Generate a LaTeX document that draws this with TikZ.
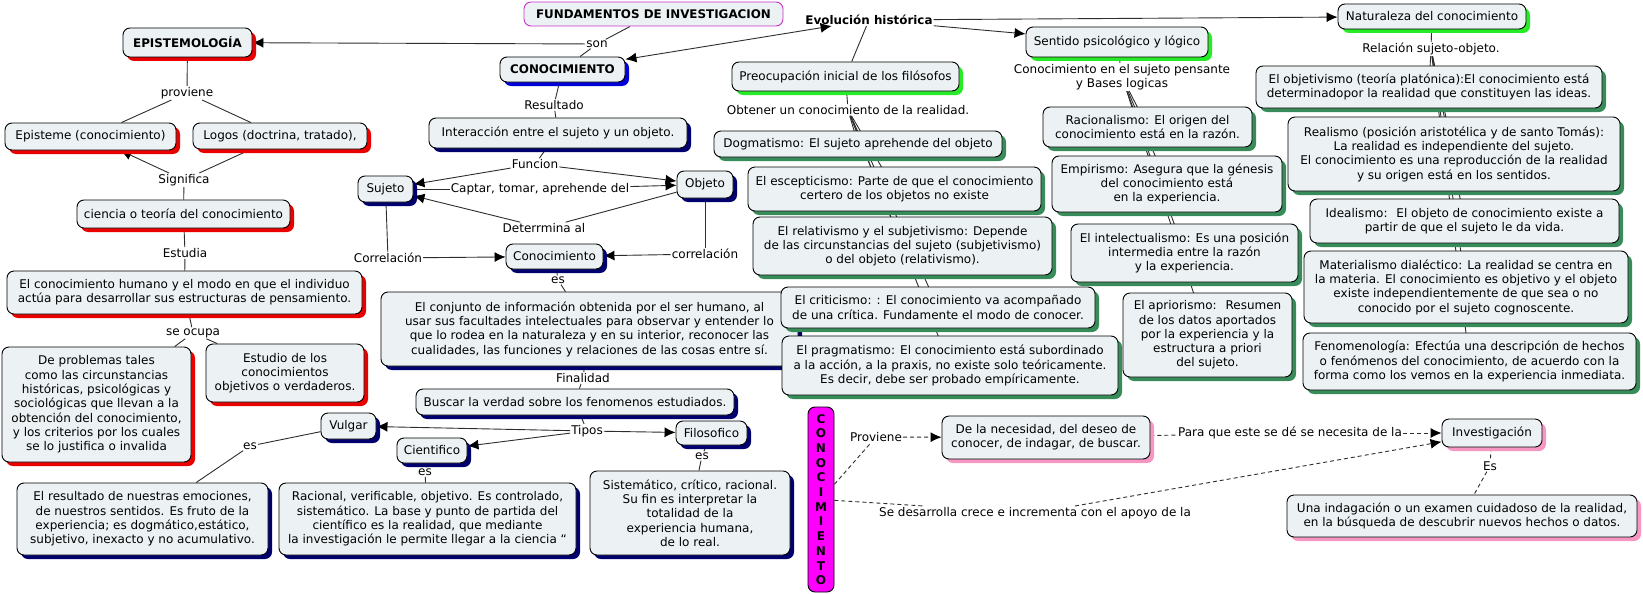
\documentclass[tikz,border=0pt]{standalone}
\usepackage{fontspec}
\setmainfont{DejaVu Sans}
\usetikzlibrary{arrows.meta,shadows}
\pgfdeclarelayer{background}
\pgfsetlayers{background,main}
\definecolor{boxfill}{RGB}{236,242,244}
\definecolor{cred}{RGB}{235,0,0}
\definecolor{cnavy}{RGB}{0,0,110}
\definecolor{cblue}{RGB}{0,0,215}
\definecolor{clime}{RGB}{40,235,40}
\definecolor{csea}{RGB}{55,140,90}
\definecolor{cpink}{RGB}{245,150,195}
\definecolor{cmag}{RGB}{255,0,255}
\definecolor{cmagb}{RGB}{200,50,200}
\definecolor{linecol}{RGB}{45,45,45}
\tikzset{
  base/.style={draw=black, line width=0.9pt, rounded corners=7pt, fill=boxfill,
    align=center, inner sep=2pt, font=\fontsize{12}{14.3}\selectfont},
  bred/.style={base, drop shadow={shadow xshift=4pt,shadow yshift=-4pt,fill=cred,opacity=1}},
  bnavy/.style={base, drop shadow={shadow xshift=4pt,shadow yshift=-4pt,fill=cnavy,opacity=1}},
  bblue/.style={base, drop shadow={shadow xshift=4pt,shadow yshift=-4pt,fill=cblue,opacity=1}},
  blime/.style={base, drop shadow={shadow xshift=4pt,shadow yshift=-4pt,fill=clime,opacity=1}},
  bsea/.style={base, drop shadow={shadow xshift=4pt,shadow yshift=-4pt,fill=csea,opacity=1}},
  bpink/.style={base, drop shadow={shadow xshift=4pt,shadow yshift=-4pt,fill=cpink,opacity=1}},
  lab/.style={inner sep=1pt, align=center, font=\fontsize{12}{14.3}\selectfont},
  ln/.style={draw=linecol, line width=0.9pt},
  ar/.style={ln, -{Latex[length=11pt,width=10pt,color=black]}},
  dln/.style={ln, dash pattern=on 4pt off 3pt},
  dar/.style={dln, -{Latex[length=11pt,width=10pt,color=black]}},
  bld/.style={font=\fontsize{11.9}{14}\selectfont\bfseries},
}
\begin{document}
\begin{tikzpicture}[x=1pt,y=-1pt]
\path[use as bounding box] (0,0) rectangle (1643,594);

% ---------- top titles ----------
\node[base, draw=cmagb, bld, minimum width=259, minimum height=24] (fund) at (653.5,14) {FUNDAMENTOS DE INVESTIGACION};
\node[bred, bld, minimum width=129, minimum height=29] (epis) at (187.5,42.5) {EPISTEMOLOGÍA};
\node[bblue, bld, minimum width=125, minimum height=25] (conoc) at (562.5,69.5) {CONOCIMIENTO};
\node[lab, bld] (evol) at (869,20) {Evolución histórica};
\node[lab] (son) at (597,44) {son};

% ---------- left branch ----------
\node[lab] (prov) at (187,93) {proviene};
\node[bred, minimum width=171, minimum height=27] (epi) at (90.5,136.5) {Episteme (conocimiento)};
\node[bred, minimum width=174, minimum height=26] (logos) at (280,136) {Logos (doctrina, tratado),};
\node[lab] (signif) at (184,180) {Significa};
\node[bred, minimum width=213, minimum height=28] (cien) at (183.5,214) {ciencia o teoría del conocimiento};
\node[lab] (estud) at (185,253) {Estudia};
\node[bred, minimum width=355, minimum height=43] (hum) at (184.5,292.5) {El conocimiento humano y el modo en que el individuo\\actúa para desarrollar sus estructuras de pensamiento.};
\node[lab] (seoc) at (193,333) {se ocupa};
\node[bred, minimum width=189, minimum height=115] (prob) at (96.5,404.5) {De problemas tales\\como las circunstancias\\históricas, psicológicas y\\sociológicas que llevan a la\\obtención del conocimiento,\\y los criterios por los cuales\\se lo justifica o invalida};
\node[bred, minimum width=158, minimum height=58] (estu) at (285,373) {Estudio de los\\conocimientos\\objetivos o verdaderos.};

% ---------- middle branch ----------
\node[lab] (resl) at (554,105) {Resultado};
\node[bnavy, minimum width=258, minimum height=30] (inter) at (558,133) {Interacción entre el sujeto y un objeto.};
\node[lab] (func) at (535,164) {Funcion};
\node[bnavy, minimum width=55, minimum height=26] (suj) at (385.5,189) {Sujeto};
\node[bnavy, minimum width=56, minimum height=27] (objn) at (705,184.5) {Objeto};
\node[lab] (capt) at (540,189) {Captar, tomar, aprehende del};
\node[lab] (det) at (544,228) {Deterrmina al};
\node[lab] (corr1) at (388,258) {Correlación};
\node[lab] (corr2) at (705,254) {correlación};
\node[bnavy, minimum width=97, minimum height=25] (conm) at (554.5,256.5) {Conocimiento};
\node[lab] (esa) at (558,280) {es};
\node[bnavy, minimum width=417, minimum height=74] (conj) at (589.5,329) {El conjunto de información obtenida por el ser humano, al\\usar sus facultades intelectuales para observar y entender lo\\que lo rodea en la naturaleza y en su interior, reconocer las\\cualidades, las funciones y relaciones de las cosas entre sí.};
\node[lab] (fin) at (583,378) {Finalidad};
\node[bnavy, minimum width=318, minimum height=26] (busc) at (575,402) {Buscar la verdad sobre los fenomenos estudiados.};
\node[lab] (tip) at (587,431) {Tipos};
\node[bnavy, minimum width=55, minimum height=26] (vulg) at (348.5,426) {Vulgar};
\node[bnavy, minimum width=70, minimum height=25] (cient) at (432,450.5) {Cientifico};
\node[bnavy, minimum width=71, minimum height=24] (filo) at (711.5,433) {Filosofico};
\node[lab] (esv) at (250,446) {es};
\node[lab] (esb) at (425,472) {es};
\node[lab] (esf) at (702,456) {es};
\node[bnavy, minimum width=251, minimum height=72] (resul) at (142.5,519) {El resultado de nuestras emociones,\\de nuestros sentidos. Es fruto de la\\experiencia; es dogmático,estático,\\subjetivo, inexacto y no acumulativo.};
\node[bnavy, minimum width=297, minimum height=72] (racio) at (427.5,519) {Racional, verificable, objetivo. Es controlado,\\sistemático. La base y punto de partida del\\científico es la realidad, que mediante\\la investigación le permite llegar a la ciencia “};
\node[bnavy, minimum width=200, minimum height=84] (sist) at (690,513) {Sistemático, crítico, racional.\\Su fin es interpretar la\\totalidad de la\\experiencia humana,\\de lo real.};

% ---------- evolucion column ----------
\node[blime, minimum width=227, minimum height=29] (preoc) at (845.5,76.5) {Preocupación inicial de los filósofos};
\node[lab] (obt) at (848,110) {Obtener un conocimiento de la realidad.};
\node[bsea, minimum width=288, minimum height=26] (dog) at (858,144) {Dogmatismo: El sujeto aprehende del objeto};
\node[bsea, minimum width=293, minimum height=44] (esc) at (894.5,189) {El escepticismo: Parte de que el conocimiento\\certero de los objetos no existe};
\node[bsea, minimum width=299, minimum height=58] (rel) at (902.5,246) {El relativismo y el subjetivismo: Depende\\de las circunstancias del sujeto (subjetivismo)\\o del objeto (relativismo).};
\node[bsea, minimum width=314, minimum height=41] (cri) at (938,307.5) {El criticismo: : El conocimiento va acompañado\\de una crítica. Fundamente el modo de conocer.};
\node[bsea, minimum width=336, minimum height=59] (pra) at (950,365.5) {El pragmatismo: El conocimiento está subordinado\\a la acción, a la praxis, no existe solo teóricamente.\\Es decir, debe ser probado empíricamente.};

\node[blime, minimum width=182, minimum height=30] (sent) at (1117,42) {Sentido psicológico y lógico};
\node[lab] (csuj) at (1122,77) {Conocimiento en el sujeto pensante\\y Bases logicas};
\node[bsea, minimum width=209, minimum height=40] (rac) at (1147.5,127) {Racionalismo: El origen del\\conocimiento está en la razón.};
\node[bsea, minimum width=230, minimum height=56] (emp) at (1167,184) {Empirismo: Asegura que la génesis\\del conocimiento está\\en la experiencia.};
\node[bsea, minimum width=227, minimum height=58] (intl) at (1184.5,253) {El intelectualismo: Es una posición\\intermedia entre la razón\\y la experiencia.};
\node[bsea, minimum width=169, minimum height=84] (apr) at (1207.5,335) {El apriorismo:~ Resumen\\de los datos aportados\\por la experiencia y la\\estructura a priori\\del sujeto.};

\node[blime, minimum width=188, minimum height=25] (natur) at (1432,16.5) {Naturaleza del conocimiento};
\node[lab] (rso) at (1431,49) {Relación sujeto-objeto.};
\node[bsea, minimum width=346, minimum height=42] (objv) at (1429,87) {El objetivismo (teoría platónica):El conocimiento está\\determinadopor la realidad que constituyen las ideas.};
\node[bsea, minimum width=332, minimum height=74] (rea) at (1454,154) {Realismo (posición aristotélica y de santo Tomás):\\La realidad es independiente del sujeto.\\El conocimiento es una reproducción de la realidad\\y su origen está en los sentidos.};
\node[bsea, minimum width=309, minimum height=44] (ide) at (1464.5,221) {Idealismo:~ El objeto de conocimiento existe a\\partir de que el sujeto le da vida.};
\node[bsea, minimum width=324, minimum height=72] (mat) at (1466,287) {Materialismo dialéctico: La realidad se centra en\\la materia. El conocimiento es objetivo y el objeto\\existe independientemente de que sea o no\\conocido por el sujeto cognoscente.};
\node[bsea, minimum width=333, minimum height=57] (fen) at (1469.5,361.5) {Fenomenología: Efectúa una descripción de hechos\\o fenómenos del conocimiento, de acuerdo con la\\forma como los vemos en la experiencia inmediata.};

% ---------- bottom right ----------
\node[base, fill=cmag, minimum width=26, minimum height=185, inner sep=0pt,
  font=\fontsize{12}{14.7}\selectfont\bfseries] (cv) at (821,499.5) {C\\O\\N\\O\\C\\I\\M\\I\\E\\N\\T\\O};
\node[lab] (provi) at (876,437) {Proviene};
\node[bpink, minimum width=208, minimum height=43] (nec) at (1046,437.5) {De la necesidad, del deseo de\\conocer, de indagar, de buscar.};
\node[lab] (para) at (1290,433) {Para que este se dé se necesita de la};
\node[bpink, minimum width=100, minimum height=28] (inv) at (1492,433) {Investigación};
\node[lab] (es4) at (1490,466) {Es};
\node[bpink, minimum width=350, minimum height=42] (unai) at (1462,516) {Una indagación o un examen cuidadoso de la realidad,\\en la búsqueda de descubrir nuevos hechos o datos.};
\node[lab] (sedes) at (1035,513) {Se desarrolla crece e incrementa con el apoyo de la};

% ---------- connectors ----------
\begin{pgfonlayer}{background}
\draw[ln] (fund) -- (son);
\draw[ar] (son) -- (epis);
\draw[ln] (son) -- (conoc);
\draw[ln, {Latex[length=11pt,width=10pt,color=black]}-{Latex[length=11pt,width=10pt,color=black]}] (conoc) -- (evol);
\draw[ar] (evol) -- (natur);
\draw[ar] (evol) -- (sent);
\draw[ln] (evol) -- (preoc);
\draw[ln] (preoc) -- (obt);
\foreach \t in {dog,esc,rel,cri,pra} \draw[ln] (obt) -- (\t.center);
\draw[ln] (sent) -- (csuj);
\foreach \t in {rac,emp,intl,apr} \draw[ln] (csuj) -- (\t.center);
\draw[ln] (natur) -- (rso);
\foreach \t in {objv,rea,ide,mat,fen} \draw[ln] (rso) -- (\t.center);

\draw[ln] (epis) -- (prov);
\draw[ln] (prov) -- (epi);
\draw[ln] (prov) -- (logos);
\draw[ln] (logos) -- (signif);
\draw[ar] (signif) -- (epi);
\draw[ln] (signif) -- (cien);
\draw[ln] (cien) -- (estud);
\draw[ln] (estud) -- (hum);
\draw[ln] (hum) -- (seoc);
\draw[ln] (seoc) -- (prob);
\draw[ln] (seoc) -- (estu);
\draw[ln] (vulg) -- (esv);
\draw[ln] (esv) -- (resul);

\draw[ln] (conoc) -- (resl);
\draw[ln] (resl) -- (inter);
\draw[ln] (inter) -- (func);
\draw[ar] (func) -- (suj);
\draw[ar] (func) -- (objn);
\draw[ln] (suj) -- (capt);
\draw[ar] (capt) -- (objn);
\draw[ln] (objn) -- (det);
\draw[ar] (det) -- (suj);
\draw[ln] (suj) -- (corr1);
\draw[ar] (corr1) -- (conm);
\draw[ln] (objn) -- (corr2);
\draw[ar] (corr2) -- (conm);
\draw[ln] (conm) -- (esa);
\draw[ln] (esa) -- (conj);
\draw[ln] (conj) -- (fin);
\draw[ln] (fin) -- (busc);
\draw[ln] (busc) -- (tip);
\draw[ar] (tip) -- (vulg);
\draw[ar] (tip) -- (cient);
\draw[ar] (tip) -- (filo);
\draw[ln] (cient) -- (esb);
\draw[ln] (esb) -- (racio);
\draw[ln] (filo) -- (esf);
\draw[ln] (esf) -- (sist);

\draw[dln] (cv) -- (provi);
\draw[dar] (provi) -- (nec);
\draw[dln] (nec) -- (para);
\draw[dar] (para) -- (inv);
\draw[dln] (inv) -- (es4);
\draw[dln] (es4) -- (unai);
\draw[dln] (cv) -- (sedes);
\draw[dar] (sedes) -- (inv);
\end{pgfonlayer}
\end{tikzpicture}
\end{document}
